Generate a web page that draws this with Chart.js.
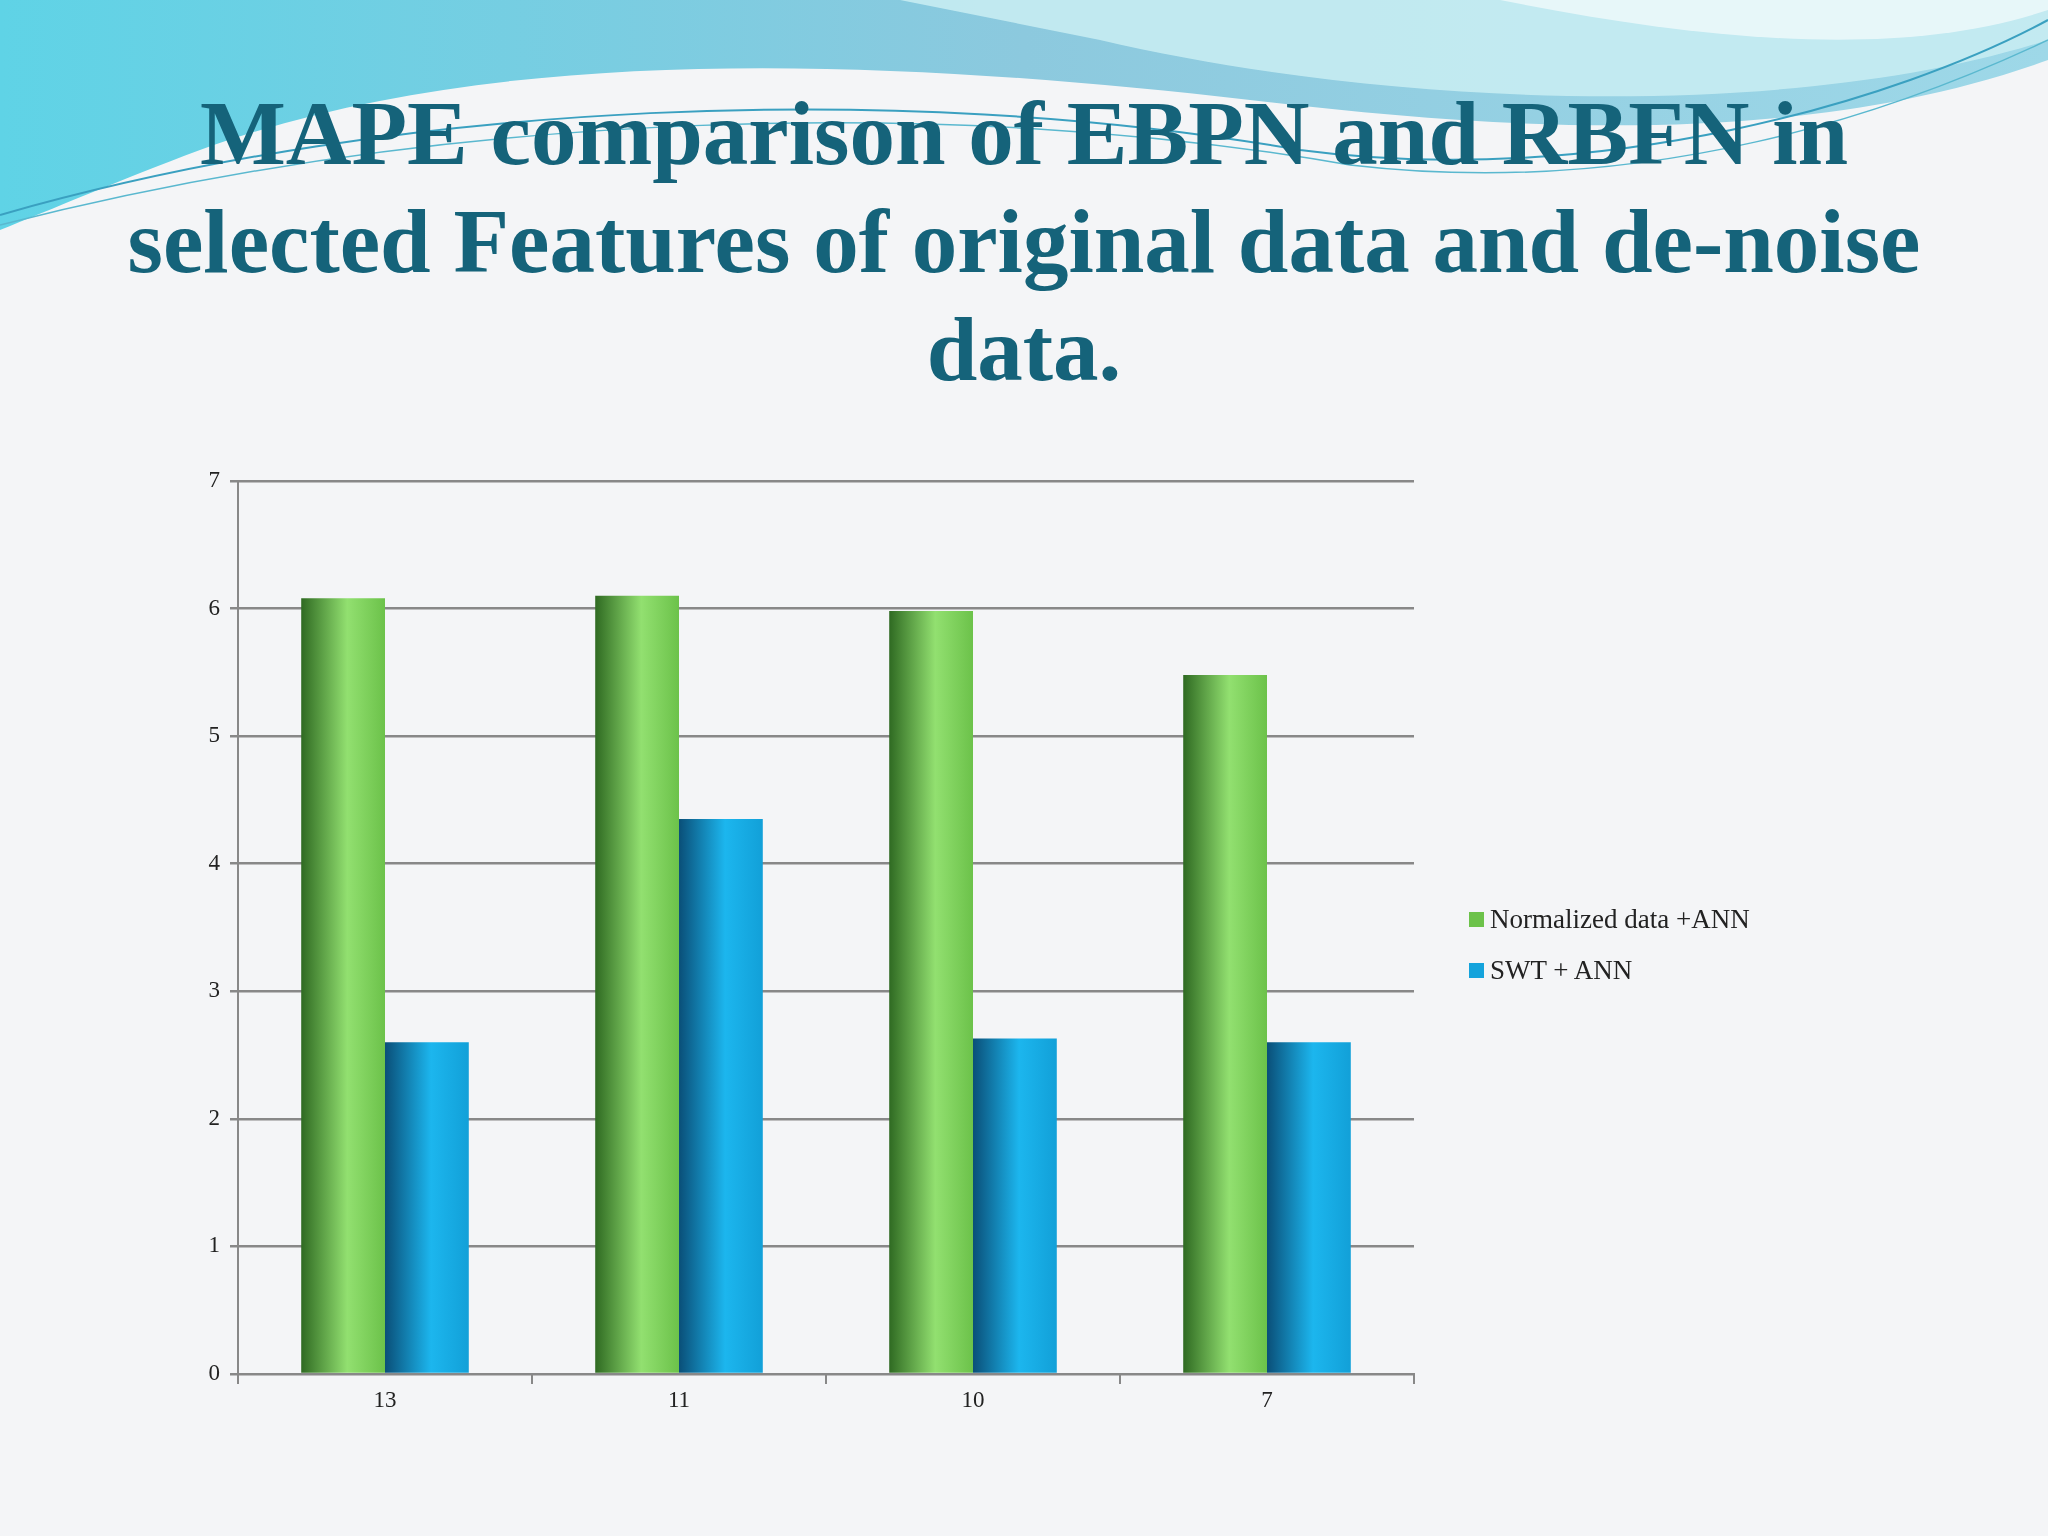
<!DOCTYPE html>
<html><head><meta charset="utf-8">
<script src="https://cdn.jsdelivr.net/npm/chart.js@4"></script>
<style>
html,body{margin:0;padding:0;width:2048px;height:1536px;overflow:hidden;background:#f4f5f7;}
#bg{position:absolute;left:0;top:0}
#title{position:absolute;left:0;width:2048px;top:80px;text-align:center;font-family:"Liberation Serif",serif;font-weight:bold;font-size:91px;line-height:108px;color:#15637a;}
#c{position:absolute;left:0;top:0}
.leg{position:absolute;left:1469px;font-family:"Liberation Serif",serif;font-size:27px;color:#222;}
.leg span{display:inline-block;width:15px;height:15px;margin-right:6px;vertical-align:1px}
</style></head><body>
<svg id="bg" width="2048" height="1536">
<defs>
<linearGradient id="g1" x1="0" y1="0" x2="1" y2="0"><stop offset="0" stop-color="#5fd3e6"/><stop offset="0.5" stop-color="#8cc9de"/><stop offset="1" stop-color="#9ed8e8"/></linearGradient>
</defs>
<path d="M0,0 H2048 V60 C1800,150 1500,130 1250,100 C900,60 500,40 200,150 C120,180 50,210 0,230 Z" fill="url(#g1)"/>
<path d="M900,0 H2048 V40 C1800,120 1400,110 1100,40 Z" fill="#c7ecf2" opacity="0.9"/>
<path d="M1500,0 H2048 V10 C1900,60 1700,40 1500,0 Z" fill="#ffffff" opacity="0.6"/>
<path d="M0,215 C400,100 900,80 1300,150 C1600,190 1900,100 2048,20" fill="none" stroke="#3aa0c0" stroke-width="2"/>
<path d="M0,225 C450,110 950,95 1350,165 C1650,200 1900,110 2048,40" fill="none" stroke="#5ab8cf" stroke-width="1.5"/>
</svg>
<div id="title">MAPE comparison of EBPN and RBFN in<br>selected Features of original data and de-noise<br>data.</div>
<canvas id="c" width="2048" height="1536"></canvas>
<div class="leg" style="top:904px"><span style="background:#6cc24a"></span>Normalized data +ANN</div>
<div class="leg" style="top:955px"><span style="background:#14a3dc"></span>SWT + ANN</div>
<script>
const categories=["13","11","10","7"];
const normalized=[6.08,6.1,5.98,5.48];
const swt=[2.6,4.35,2.63,2.6];
const yTicks=[0,1,2,3,4,5,6,7];
function grad(dark,mid,light){
 return function(ctx){
  const el=ctx.chart.getDatasetMeta(ctx.datasetIndex).data[ctx.dataIndex];
  if(!el||!isFinite(el.x)||!el.width) return mid;
  const g=ctx.chart.ctx.createLinearGradient(el.x-el.width/2,0,el.x+el.width/2,0);
  g.addColorStop(0,dark);g.addColorStop(0.55,light);g.addColorStop(1,mid);
  return g;
 };
}
const chart=new Chart(document.getElementById('c'),{
 type:'bar',
 data:{labels:categories,datasets:[
  {label:'Normalized data +ANN',data:normalized,backgroundColor:grad('#2f6a22','#6cc24a','#92e070'),categoryPercentage:0.57,barPercentage:1},
  {label:'SWT + ANN',data:swt,backgroundColor:grad('#0a4f78','#12a0d8','#1cb6ee'),categoryPercentage:0.57,barPercentage:1}
 ]},
 options:{responsive:false,animation:false,
  layout:{padding:{left:178,right:634,top:481,bottom:102}},
  plugins:{legend:{display:false},tooltip:{enabled:false}},
  scales:{
   x:{afterFit:s=>{s.height=60;},grid:{offset:true,drawOnChartArea:false,color:'#888',lineWidth:2,tickLength:10},border:{color:'#888',width:2},
      ticks:{color:'#222',font:{family:'Liberation Serif',size:23}}},
   y:{min:0,max:7,afterFit:s=>{s.width=60;},afterBuildTicks:s=>{s.ticks=yTicks.map(v=>({value:v}));},
      grid:{color:'#888',lineWidth:2.5,tickLength:8},border:{color:'#888',width:2},
      ticks:{color:'#222',font:{family:'Liberation Serif',size:23},padding:10}}
  }}
});
chart.update();
</script>
</body></html>
